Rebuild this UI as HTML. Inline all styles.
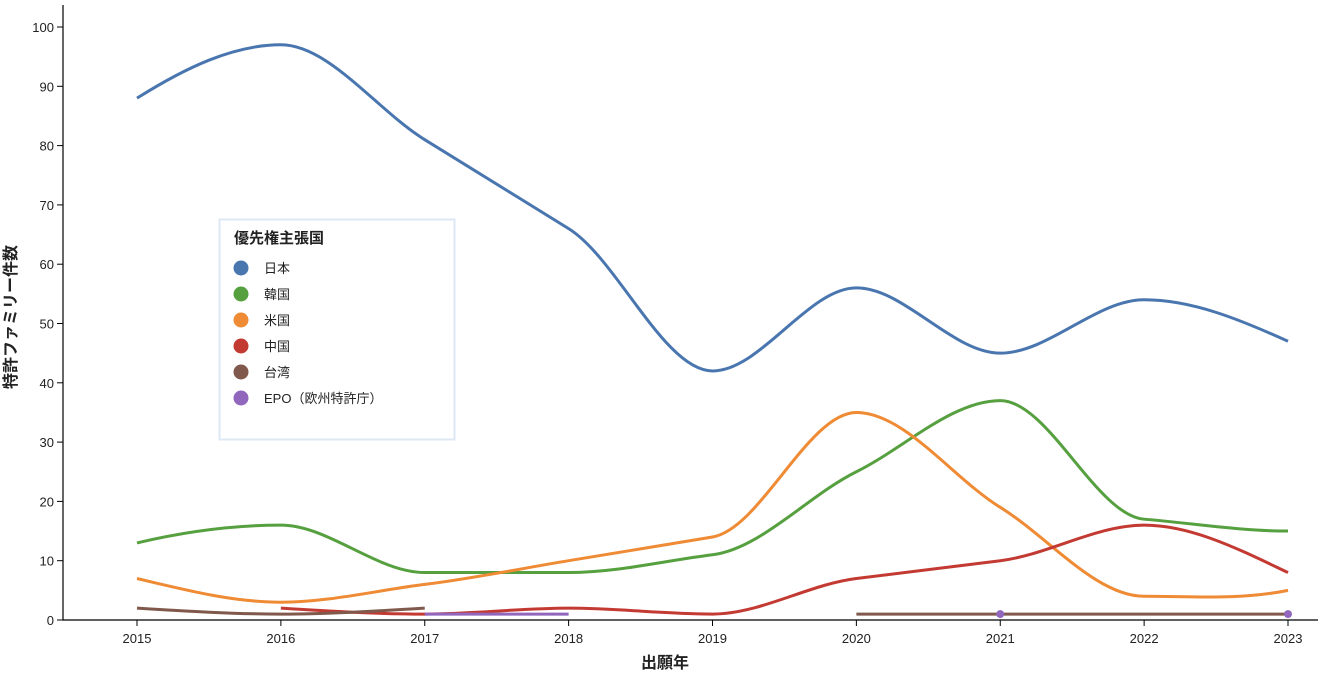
<!DOCTYPE html>
<html><head><meta charset="utf-8"><style>
body{margin:0;background:#fff}
svg text{font-family:"Liberation Sans","Noto Sans CJK JP",sans-serif;fill:#222}
</style></head><body>
<svg id="s" width="1320" height="675" xmlns="http://www.w3.org/2000/svg">
<g id="ax" stroke="#000" stroke-width="1.2" fill="none">
<path d="M63,5V620H1318"/>
</g>
<g id="ticks"></g>
<g id="lines" fill="none" stroke-width="3" stroke-linecap="butt"></g>
<text x="665" y="668" text-anchor="middle" font-size="16" font-weight="bold">出願年</text>
<text transform="translate(16,317) rotate(-90)" text-anchor="middle" font-size="16" font-weight="bold">特許ファミリー件数</text>
<rect x="219.5" y="219.5" width="235" height="220" fill="#fff" stroke="#dce9f5" stroke-width="2"/>
<text x="234" y="243" font-size="15" font-weight="bold">優先権主張国</text>
<g font-size="13">
<circle cx="241" cy="268" r="7.5" fill="#4a76b0"/><text x="264" y="273">日本</text>
<circle cx="241" cy="294" r="7.5" fill="#56a040"/><text x="264" y="299">韓国</text>
<circle cx="241" cy="320" r="7.5" fill="#ef8a35"/><text x="264" y="325">米国</text>
<circle cx="241" cy="346" r="7.5" fill="#c33a33"/><text x="264" y="351">中国</text>
<circle cx="241" cy="372" r="7.5" fill="#80594c"/><text x="264" y="377">台湾</text>
<circle cx="241" cy="398" r="7.5" fill="#9067bd"/><text x="264" y="403">EPO（欧州特許庁）</text>
</g>
</svg>
<script>
const X=y=>137+(y-2015)*143.875, Y=v=>620-5.93*v;
const ns="http://www.w3.org/2000/svg";
let t=document.getElementById('ticks'),h='';
for(let v=0;v<=100;v+=10){h+=`<line x1="57" x2="63" y1="${Y(v)}" y2="${Y(v)}" stroke="#000"/><text x="54" y="${Y(v)+5}" text-anchor="end" font-size="13">${v}</text>`;}
for(let y=2015;y<=2023;y++){h+=`<line x1="${X(y)}" x2="${X(y)}" y1="620" y2="626" stroke="#000"/><text x="${X(y)}" y="643" text-anchor="middle" font-size="13">${y}</text>`;}
t.innerHTML=h;
function mono(pts){
 const n=pts.length; if(n<2)return '';
 const xs=pts.map(p=>p[0]),ys=pts.map(p=>p[1]);
 const d=[],m=[];
 for(let i=0;i<n-1;i++)d.push((ys[i+1]-ys[i])/(xs[i+1]-xs[i]));
 for(let i=0;i<n;i++){
  if(i==0)m.push(n>2?(3*d[0]-(d[0]+d[1])/2)/2:d[0]);
  else if(i==n-1)m.push(n>2?(3*d[n-2]-(d[n-2]+d[n-3])/2)/2:d[n-2]);
  else{ if(d[i-1]*d[i]<=0)m.push(0); else{const a=d[i-1],b=d[i];m.push(Math.sign(a)*Math.min(Math.abs(a),Math.abs(b),Math.abs((a+b)/2))*1.0);}}
 }
 // clamp ends like d3
 for(let i of [0,n-1]){const dd=i==0?d[0]:d[n-2];if(m[i]*dd<0)m[i]=0;}
 let s=`M${xs[0]},${ys[0]}`;
 for(let i=0;i<n-1;i++){const h=(xs[i+1]-xs[i])/3;
  s+=`C${xs[i]+h},${ys[i]+m[i]*h} ${xs[i+1]-h},${ys[i+1]-m[i+1]*h} ${xs[i+1]},${ys[i+1]}`;}
 return s;
}
const series=[
 ['#4a76b0',2015,[88,97,81,66,42,56,45,54,47]],
 ['#56a040',2015,[13,16,8,8,11,25,37,17,15]],
 ['#ef8a35',2015,[7,3,6,10,14,35,19,4,5]],
 ['#c33a33',2016,[2,1,2,1,7,10,16,8]],
 ['#80594c',2015,[2,1,2]],
 ['#80594c',2020,[1,1,1,1]],
 ['#9067bd',2017,[1,1]]
];
let L=document.getElementById('lines'),g='';
for(const [c,s0,v] of series){g+=`<path stroke="${c}" d="${mono(v.map((a,i)=>[X(s0+i),Y(a)]))}"/>`;}
g+=`<circle cx="${X(2021)}" cy="${Y(1)}" r="4" fill="#9067bd" stroke="none"/><circle cx="${X(2023)}" cy="${Y(1)}" r="4" fill="#9067bd" stroke="none"/>`;
L.innerHTML=g;
</script>
</body></html>
